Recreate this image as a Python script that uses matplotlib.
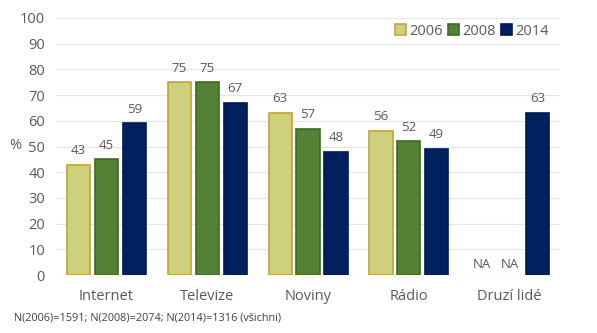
import matplotlib
matplotlib.use("Agg")
import matplotlib.pyplot as plt
import numpy as np

categories = ["Internet", "Televize", "Noviny", "Rádio", "Druzí lidé"]
years = ["2006", "2008", "2014"]
v2006 = [43, 75, 63, 56, None]
v2008 = [45, 75, 57, 52, None]
v2014 = [59, 67, 48, 49, 63]
yticks = [0, 10, 20, 30, 40, 50, 60, 70, 80, 90, 100]
footnote = "N(2006)=1591; N(2008)=2074; N(2014)=1316 (všichni)"

plt.rcParams['font.family'] = ['Open Sans', 'DejaVu Sans']
txt = "#595959"

fig = plt.figure(figsize=(5.97, 3.33), dpi=100)
ax = fig.add_axes([0.094, 0.174, 0.844, 0.772])

x = np.arange(len(categories))
w = 0.23
off = 0.277
series = [v2006, v2008, v2014]
faces = ["#cdd17b", "#548235", "#002060"]
edges = ["#c4a33a", "#3d6a25", "#001a50"]

for i, (vals, fc, ec, yr) in enumerate(zip(series, faces, edges, years)):
    xs = x + (i - 1) * off
    idx = [j for j, v in enumerate(vals) if v is not None]
    ax.bar(xs[idx], [vals[j] for j in idx], width=w, color=fc, edgecolor=ec,
           linewidth=1.2, label=yr, zorder=3)
    for xi, v in zip(xs, vals):
        if v is None:
            ax.text(xi, 1.5, "NA", ha="center", va="bottom", fontsize=9.5, color=txt)
        else:
            ax.text(xi, v + 3, str(v), ha="center", va="bottom", fontsize=9.5, color=txt)

ax.set_xlim(-0.5, len(categories) - 0.5)
ax.set_ylim(0, 100)
ax.set_yticks(yticks)
ax.set_xticks(x)
ax.set_xticklabels(categories)
ax.tick_params(axis="both", length=0, labelsize=10.5, colors=txt)
ax.tick_params(axis="x", pad=10)
ax.tick_params(axis="y", pad=8)
ax.yaxis.grid(True, color="#e6e6e6", linewidth=0.8, zorder=0)
ax.set_axisbelow(True)
for s in ax.spines.values():
    s.set_visible(False)
ax.axhline(0, color="#d9d9d9", linewidth=0.8, zorder=1)

fig.text(0.015, 0.563, "%", fontsize=10.5, color=txt, ha="left", va="center")

leg = ax.legend(loc="upper right", bbox_to_anchor=(0.99, 1.0), ncol=3, frameon=False,
                fontsize=10.5, handlelength=0.75, handleheight=0.75, handletextpad=0.25,
                columnspacing=0.35, borderaxespad=0)
for t in leg.get_texts():
    t.set_color(txt)

fig.text(0.024, 0.045, footnote, fontsize=7.8, color="#404040", ha="left", va="center")

fig.savefig("out.png", dpi=100)
